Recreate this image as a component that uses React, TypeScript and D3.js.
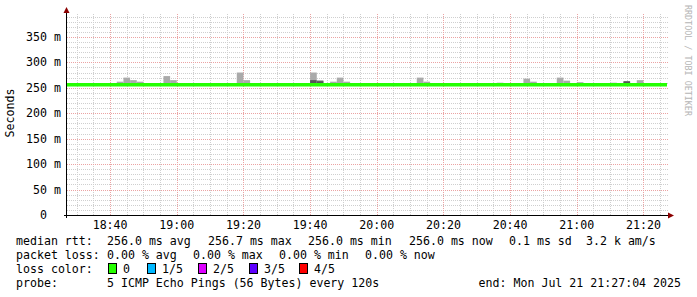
import * as d3 from 'd3';

// time window of the graph
const startTime = '18:27:04';
const endTime = '21:27:04';

// median rtt (ms) – flat all through the window
const medianTimes = ['18:27:04', '21:27:04'];
const medianValues = [256.0, 256.0];

// smoke: slots where the slowest pings were above the median (ms)
const smokeTimes = [
  '18:42', '18:44', '18:46', '18:48', '18:56', '18:58', '19:18', '19:20',
  '19:40', '19:42', '19:46', '19:48', '19:50', '20:12', '20:14', '20:36',
  '20:44', '20:46', '20:54', '20:56', '21:00', '21:10', '21:14', '21:18',
];
const smokeTop = [
  262, 270, 265, 262, 273, 265, 280, 265,
  280, 265, 262, 270, 262, 270, 262, 260,
  268, 262, 270, 264, 261, 260, 261, 265,
];
const smokeMid = [
  256, 256, 256, 256, 256, 256, 256, 256,
  265, 263, 256, 256, 256, 256, 256, 256,
  256, 256, 256, 256, 256, 256, 263, 256,
];

const yTicks = [0, 50, 100, 150, 200, 250, 300, 350];
const xTickLabels = ['18:40', '19:00', '19:20', '19:40', '20:00', '20:20', '20:40', '21:00', '21:20'];

const rttStats = ['256.0 ms avg', '256.7 ms max', '256.0 ms min', '256.0 ms now', '0.1 ms sd', '3.2 k am/s'];
const lossStats = ['0.00 % avg', '0.00 % max', '0.00 % min', '0.00 % now'];
const lossLabels = ['0', '1/5', '2/5', '3/5', '4/5'];
const lossColors = ['#26ff00', '#00b8ff', '#dd00ff', '#5e00ff', '#ff0000'];
const probeText = '5 ICMP Echo Pings (56 Bytes) every 120s';
const endText = 'end: Mon Jul 21 21:27:04 2025';

const mono = 'DejaVu Sans Mono';
const parse = d3.timeParse('%Y-%m-%d %H:%M:%S');
const toDate = (s: string) => parse('2025-07-21 ' + (s.length === 5 ? s + ':00' : s))!;

const App = () => {
  const W = 697, H = 297;
  const left = 67, right = 667, top = 14, bottom = 215;

  const x = d3.scaleTime().domain([toDate(startTime), toDate(endTime)]).range([left, right]);
  const y = d3.scaleLinear().domain([0, 395]).range([bottom, top]);
  const px = (v: number) => Math.round(v) + 0.5;

  const majorX = xTickLabels.map((t) => px(x(toDate(t))));
  const minorX = d3.timeMinute.every(5)!.range(toDate(startTime), toDate(endTime))
    .map((d) => px(x(d)))
    .filter((v) => !majorX.includes(v));
  const minorY = d3.range(10, 395, 10).filter((v) => v % 50 !== 0).map((v) => px(y(v)));
  const majorY = yTicks.slice(1).map((v) => px(y(v)));
  const slotW = x(toDate('18:29:04')) - x(toDate(startTime));

  const medianLine = d3.line<number>()
    .x((_, i) => x(toDate(medianTimes[i])))
    .y((v) => y(v))
    .curve(d3.curveStepAfter);

  const rttX = [107, 208, 308, 409, 509, 586];
  const lossX = [107, 193, 279, 365];
  const boxX = [108, 147, 198, 249, 299];
  const rows = [245, 259, 273, 287];

  return (
    <svg width={W} height={H} style={{ position: 'absolute', left: 0, top: 0, background: '#fff' }}
      fontFamily={mono} fontSize={11.6}>
      {/* minor grid */}
      {minorX.map((v, i) => (
        <line key={'mx' + i} x1={v} x2={v} y1={top} y2={bottom} stroke="#cfcfcf" strokeDasharray="1,1" />
      ))}
      {minorY.map((v, i) => (
        <line key={'my' + i} x1={left} x2={right + 1} y1={v} y2={v} stroke="#cfcfcf" strokeDasharray="1,1" />
      ))}
      {/* major grid */}
      {majorX.map((v, i) => (
        <line key={'Mx' + i} x1={v} x2={v} y1={top} y2={bottom} stroke="#eba3a3" strokeDasharray="1,1" />
      ))}
      {majorY.map((v, i) => (
        <line key={'My' + i} x1={left} x2={right + 1} y1={v} y2={v} stroke="#eba3a3" strokeDasharray="1,1" />
      ))}

      {/* smoke */}
      {smokeTimes.map((t, i) => (
        <g key={'s' + t}>
          <rect x={x(toDate(t))} width={slotW} y={y(smokeTop[i])} height={y(medianValues[0]) - y(smokeTop[i])} fill="#aaaaaa" />
          {smokeMid[i] > medianValues[0] && (
            <rect x={x(toDate(t))} width={slotW} y={y(smokeMid[i])} height={y(medianValues[0]) - y(smokeMid[i])} fill="#555555" />
          )}
        </g>
      ))}

      {/* median line */}
      <path d={medianLine(medianValues)!} fill="none" stroke={lossColors[0]} strokeWidth={3.5} />

      {/* axes */}
      <line x1={left - 0.5} x2={left - 0.5} y1={11} y2={bottom + 3} stroke="#000" />
      <line x1={left - 3} x2={right + 2} y1={bottom + 0.5} y2={bottom + 0.5} stroke="#000" />
      <path d={`M${left - 3.5},13 L${left - 0.5},7 L${left + 2.5},13 Z`} fill="#8b0000" />
      <path d={`M${right + 1},${bottom - 2.5} L${right + 7},${bottom + 0.5} L${right + 1},${bottom + 3.5} Z`} fill="#8b0000" />

      {yTicks.map((v) => (
        <text key={'yl' + v} x={v === 0 ? 47 : 61} y={y(v) + 4} textAnchor="end" fill="#000">{v === 0 ? '0' : `${v} m`}</text>
      ))}
      {xTickLabels.map((t) => (
        <text key={'xl' + t} x={x(toDate(t))} y={229} textAnchor="middle" fill="#000">{t}</text>
      ))}
      <text transform="translate(14,113) rotate(-90)" textAnchor="middle" fill="#000">Seconds</text>
      <text transform="translate(685,5) rotate(90)" fontSize={8.4} fill="#b5b5b5">RRDTOOL / TOBI OETIKER</text>

      {/* legend */}
      <text x={16} y={rows[0]} fill="#000">median rtt:</text>
      {rttStats.map((s, i) => (
        <text key={'r' + i} x={rttX[i]} y={rows[0]} fill="#000">{s}</text>
      ))}
      <text x={16} y={rows[1]} fill="#000">packet loss:</text>
      {lossStats.map((s, i) => (
        <text key={'l' + i} x={lossX[i]} y={rows[1]} fill="#000">{s}</text>
      ))}
      <text x={16} y={rows[2]} fill="#000">loss color:</text>
      {lossLabels.map((s, i) => (
        <g key={'c' + i}>
          <rect x={boxX[i] + 0.5} y={rows[2] - 9.5} width={8} height={10} fill={lossColors[i]} stroke="#000" />
          <text x={boxX[i] + 15} y={rows[2]} fill="#000">{s}</text>
        </g>
      ))}
      <text x={16} y={rows[3]} fill="#000">probe:</text>
      <text x={107} y={rows[3]} fill="#000">{probeText}</text>
      <text x={681} y={rows[3]} textAnchor="end" fill="#000">{endText}</text>
    </svg>
  );
};

export default App;
